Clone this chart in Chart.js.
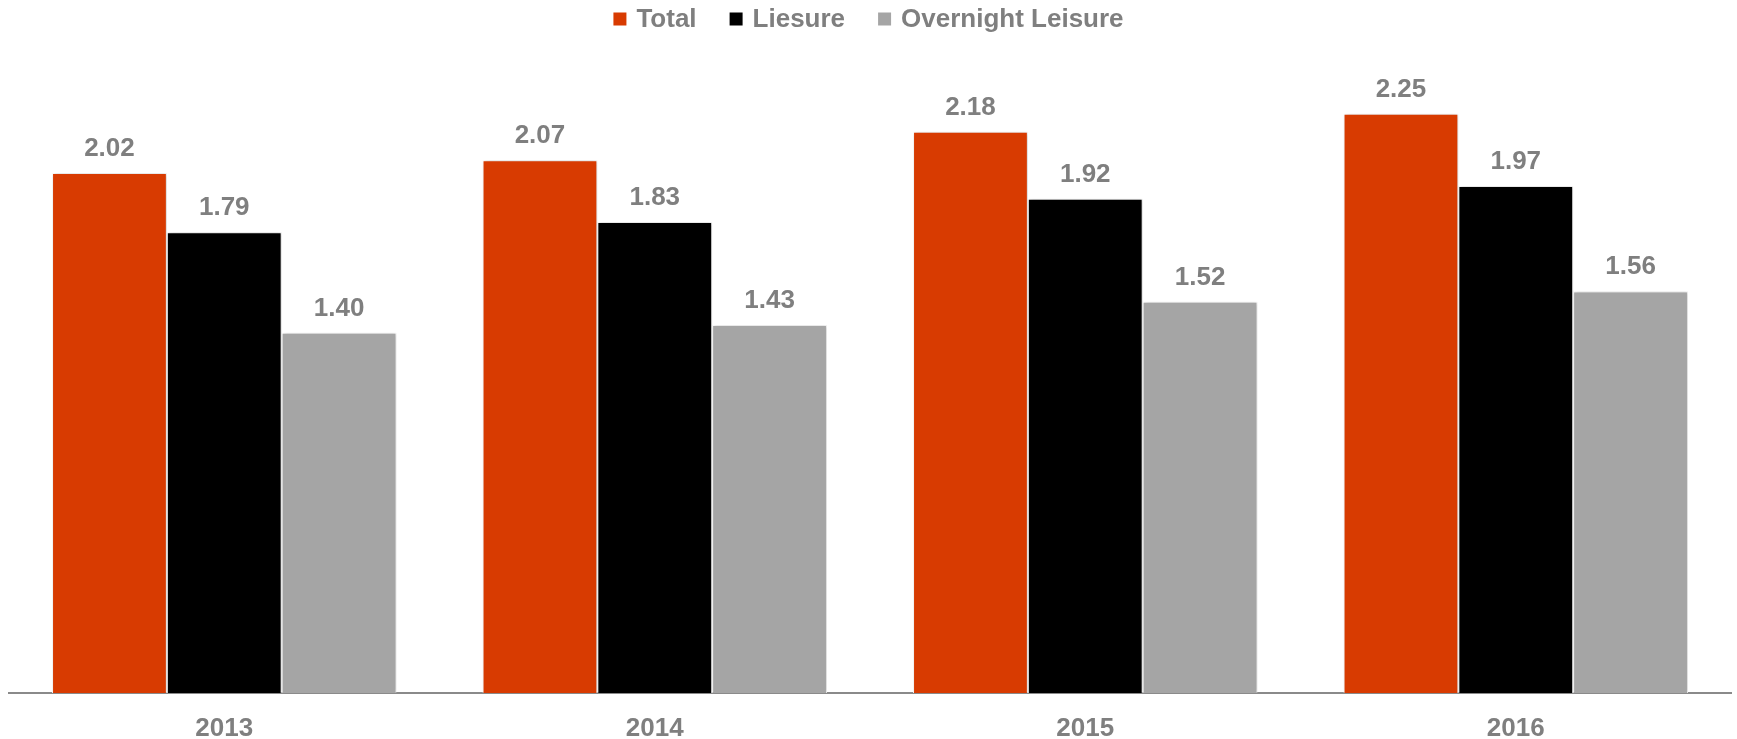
<!DOCTYPE html>
<html>
<head>
<meta charset="utf-8">
<script src="https://cdn.jsdelivr.net/npm/chart.js@4.4.1/dist/chart.umd.min.js"></script>
<style>
  html, body { margin: 0; padding: 0; background: #ffffff; }
  #wrap { width: 1737px; height: 739px; }
</style>
</head>
<body>
<div id="wrap"><canvas id="c" width="1737" height="739"></canvas></div>
<script>
const categories = ["2013", "2014", "2015", "2016"];
const seriesNames = ["Total", "Liesure", "Overnight Leisure"];
const totalValues = [2.02, 2.07, 2.18, 2.25];
const liesureValues = [1.79, 1.83, 1.92, 1.97];
const overnightValues = [1.40, 1.43, 1.52, 1.56];
const seriesColors = ["#D83B01", "#000000", "#A5A5A5"];

const FONT = "'Liberation Sans', Arial, sans-serif";
const TEXT_GRAY = "#7F7F7F";

const barShadow = {
  id: "barShadow",
  beforeDatasetsDraw(chart) {
    const ctx = chart.ctx;
    ctx.save();
    ctx.shadowColor = "rgba(0,0,0,0.22)";
    ctx.shadowBlur = 4;
    ctx.shadowOffsetX = 1;
    ctx.shadowOffsetY = 0;
  },
  afterDatasetsDraw(chart) {
    chart.ctx.restore();
  }
};

const valueLabels = {
  id: "valueLabels",
  afterDatasetsDraw(chart) {
    const ctx = chart.ctx;
    ctx.save();
    ctx.font = "bold 26px " + FONT;
    ctx.fillStyle = TEXT_GRAY;
    ctx.textAlign = "center";
    ctx.textBaseline = "alphabetic";
    chart.data.datasets.forEach((ds, di) => {
      const meta = chart.getDatasetMeta(di);
      meta.data.forEach((bar, i) => {
        ctx.fillText(ds.data[i].toFixed(2), bar.x, bar.y - 17);
      });
    });
    ctx.restore();
  }
};

const topLegend = {
  id: "topLegend",
  afterDraw(chart) {
    const ctx = chart.ctx;
    ctx.save();
    ctx.font = "bold 26px " + FONT;
    const box = 13, gapText = 10, gapItem = 33;
    const items = chart.data.datasets.map(ds => ({ text: ds.label, color: ds.backgroundColor, w: ctx.measureText(ds.label).width }));
    let total = 0;
    items.forEach((it, i) => { total += box + gapText + it.w + (i < items.length - 1 ? gapItem : 0); });
    let x = chart.width / 2 - total / 2;
    const cy = 19;
    ctx.textBaseline = "middle";
    ctx.textAlign = "left";
    items.forEach(it => {
      ctx.fillStyle = it.color;
      ctx.fillRect(x, cy - box / 2, box, box);
      x += box + gapText;
      ctx.fillStyle = TEXT_GRAY;
      ctx.fillText(it.text, x, cy + 1);
      x += it.w + gapItem;
    });
    ctx.restore();
  }
};

new Chart(document.getElementById("c"), {
  type: "bar",
  data: {
    labels: categories,
    datasets: [
      { label: seriesNames[0], data: totalValues, backgroundColor: seriesColors[0] },
      { label: seriesNames[1], data: liesureValues, backgroundColor: seriesColors[1] },
      { label: seriesNames[2], data: overnightValues, backgroundColor: seriesColors[2] }
    ]
  },
  options: {
    responsive: false,
    devicePixelRatio: 1,
    animation: false,
    layout: { padding: { left: 9, right: 6, top: 49.5, bottom: 0 } },
    datasets: {
      bar: { barPercentage: 1.0, categoryPercentage: 0.8, borderColor: "#FFFFFF", borderWidth: 1, borderSkipped: "bottom" }
    },
    plugins: {
      legend: { display: false },
      tooltip: { enabled: false },
      title: { display: false }
    },
    scales: {
      x: {
        grid: { display: false, drawTicks: false },
        border: { display: true, color: "#8A8A8A", width: 2 },
        ticks: { color: TEXT_GRAY, font: { family: FONT, size: 26, weight: "bold" }, padding: 20 },
        afterFit(scale) { scale.height = 46; }
      },
      y: {
        display: false,
        min: 0,
        max: 2.5
      }
    }
  },
  plugins: [barShadow, valueLabels, topLegend]
});
</script>
</body>
</html>
